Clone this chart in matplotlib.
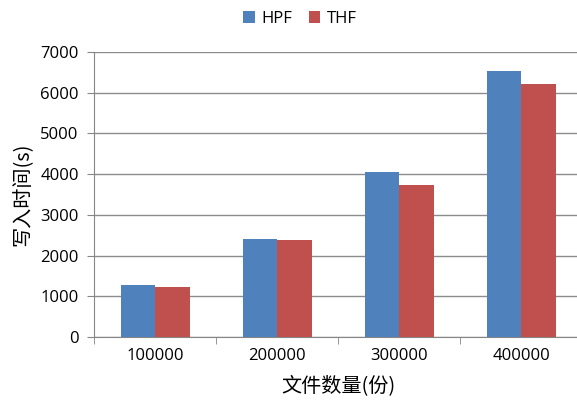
import matplotlib
matplotlib.use("Agg")
import matplotlib.pyplot as plt
import numpy as np

plt.rcParams['font.family'] = ['Open Sans', 'Noto Sans CJK SC', 'DejaVu Sans']

# file counts and write times (seconds)
categories = ['100000', '200000', '300000', '400000']
hpf = [1280, 2400, 4050, 6540]
thf = [1230, 2380, 3740, 6210]

fig = plt.figure(figsize=(5.77, 4.04), dpi=100)
ax = fig.add_axes([0.163, 0.166, 0.846, 0.705])

x = np.arange(len(categories))
w = 0.283
ax.bar(x - w / 2, hpf, w, color='#4F81BD', label='HPF', zorder=3)
ax.bar(x + w / 2, thf, w, color='#C0504D', label='THF', zorder=3)

ax.set_xlim(-0.5, len(categories) - 0.5)
ax.set_ylim(0, 7000)
ax.set_yticks(range(0, 7001, 1000))
ax.set_xticks(x)
ax.set_xticklabels(categories, fontsize=12)
ax.tick_params(axis='y', labelsize=12, length=5, color='#868686', pad=6)
ax.tick_params(axis='x', length=0, pad=8)
# tick marks between the category groups
ax.set_xticks(np.arange(-0.5, len(categories)), minor=True)
ax.tick_params(axis='x', which='minor', length=5, color='#868686')

ax.grid(axis='y', color='#8c8c8c', linewidth=1, zorder=0)
for s in ['top', 'right']:
    ax.spines[s].set_visible(False)
for s in ['left', 'bottom']:
    ax.spines[s].set_color('#868686')

cjk = ['Noto Sans CJK SC', 'DejaVu Sans']
ax.set_ylabel('写入时间(s)', fontsize=14.5, family=cjk, labelpad=5)
ax.set_xlabel('文件数量(份)', fontsize=14.5, family=cjk, labelpad=8)

fig.legend(loc='upper center', bbox_to_anchor=(0.52, 1.01), ncol=2, frameon=False,
           fontsize=12, handlelength=0.7, handleheight=0.7, columnspacing=1.0,
           handletextpad=0.4)

fig.savefig('out.png', dpi=100)
